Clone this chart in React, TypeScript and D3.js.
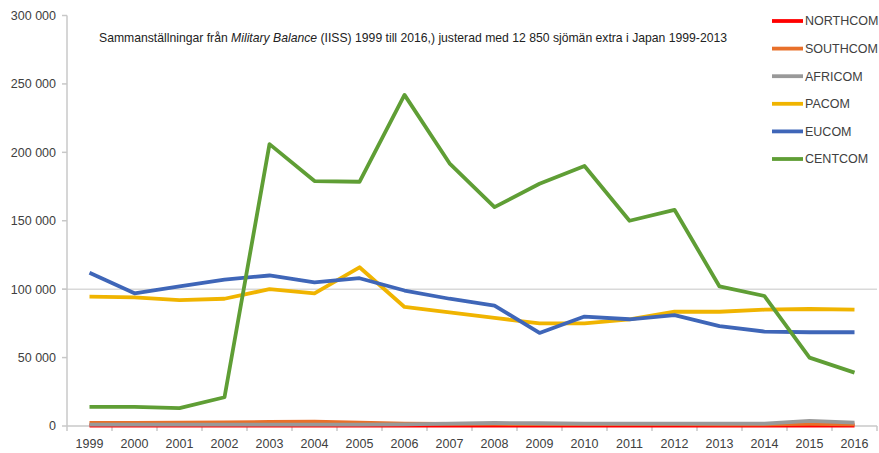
import * as d3 from "d3";

const years = ["1999", "2000", "2001", "2002", "2003", "2004", "2005", "2006", "2007", "2008", "2009", "2010", "2011", "2012", "2013", "2014", "2015", "2016"];

const northcom = [300, 300, 300, 300, 300, 300, 300, 300, 300, 300, 300, 300, 300, 300, 300, 300, 300, 300];
const southcom = [2200, 2300, 2500, 2600, 3000, 3200, 2500, 1800, 1500, 1500, 1400, 1300, 1300, 1300, 1200, 1200, 1500, 1200];
const africom = [1000, 1000, 1000, 1000, 1000, 1000, 1000, 1200, 1800, 2200, 2000, 1700, 1800, 1800, 1800, 1800, 3800, 2500];
const pacom = [94500, 94000, 92000, 93000, 100000, 97000, 116000, 87000, 83000, 79000, 75000, 75000, 78000, 83500, 83500, 85000, 85500, 85000];
const eucom = [112000, 97000, 102000, 107000, 110000, 105000, 108000, 99000, 93000, 88000, 68000, 80000, 78000, 81000, 73000, 69000, 68500, 68500];
const centcom = [14000, 14000, 13000, 21000, 206000, 179000, 178500, 242000, 192000, 160000, 177000, 190000, 150000, 158000, 102000, 95000, 50000, 39000];

const yTicks = [0, 50000, 100000, 150000, 200000, 250000, 300000];

const series = [
  { name: "NORTHCOM", color: "#ff0000", values: northcom },
  { name: "SOUTHCOM", color: "#e8702a", values: southcom },
  { name: "AFRICOM", color: "#999999", values: africom },
  { name: "PACOM", color: "#f0b400", values: pacom },
  { name: "EUCOM", color: "#3f66b8", values: eucom },
  { name: "CENTCOM", color: "#5f9e35", values: centcom },
];

const font = "'Liberation Sans', Arial, sans-serif";

export default function App() {
  const x = d3.scaleBand().domain(years).range([67, 877]);
  const y = d3.scaleLinear().domain([0, 300000]).range([426, 15.5]);
  const fmt = (v: number) => d3.format(",")(v).replace(/,/g, " ");

  const line = d3
    .line<number>()
    .x((_, i) => (x(years[i]) as number) + x.bandwidth() / 2)
    .y((d) => y(d));

  return (
    <div style={{ position: "fixed", left: 0, top: 0 }}>
      <svg width={879} height={453} style={{ display: "block", background: "#fff" }} fontFamily={font}>
        {/* single grid line at 100 000 */}
        <line x1={62} x2={877} y1={y(100000)} y2={y(100000)} stroke="#d9d9d9" strokeWidth={1.5} />

        {/* y axis */}
        <line x1={67} x2={67} y1={y(300000)} y2={y(0)} stroke="#c8c8c8" strokeWidth={1.5} />
        {yTicks.map((t) => (
          <g key={t}>
            <line x1={62} x2={67} y1={y(t)} y2={y(t)} stroke="#c8c8c8" strokeWidth={1.5} />
            <text x={56} y={y(t)} dy="0.35em" textAnchor="end" fontSize={12.5} fill="#404040">
              {fmt(t)}
            </text>
          </g>
        ))}

        {/* x axis */}
        <line x1={67} x2={877} y1={y(0)} y2={y(0)} stroke="#c8c8c8" strokeWidth={1.5} />
        {years.map((yr, i) => (
          <g key={yr}>
            <line x1={(x(yr) as number) + x.bandwidth()} x2={(x(yr) as number) + x.bandwidth()} y1={426} y2={431} stroke="#c8c8c8" strokeWidth={1.5} />
            {i === 0 && <line x1={67} x2={67} y1={426} y2={431} stroke="#c8c8c8" strokeWidth={1.5} />}
            <text x={(x(yr) as number) + x.bandwidth() / 2} y={448} textAnchor="middle" fontSize={12.5} fill="#404040">
              {yr}
            </text>
          </g>
        ))}

        {/* series */}
        {series.map((s) => (
          <path key={s.name} d={line(s.values) as string} fill="none" stroke={s.color} strokeWidth={3.8} strokeLinejoin="round" />
        ))}

        {/* title */}
        <text x={99} y={42} fontSize={12.2} fill="#222">
          Sammanställningar från <tspan fontStyle="italic">Military Balance</tspan> (IISS) 1999 till 2016,) justerad med 12 850 sjömän extra i Japan 1999-2013
        </text>

        {/* legend */}
        {series.map((s, i) => (
          <g key={s.name} transform={`translate(772, ${21 + i * 27.6})`}>
            <line x1={0} x2={31} y1={0} y2={0} stroke={s.color} strokeWidth={3.8} />
            <text x={33} y={0} dy="0.35em" fontSize={12.5} fill="#404040">
              {s.name}
            </text>
          </g>
        ))}
      </svg>
    </div>
  );
}
